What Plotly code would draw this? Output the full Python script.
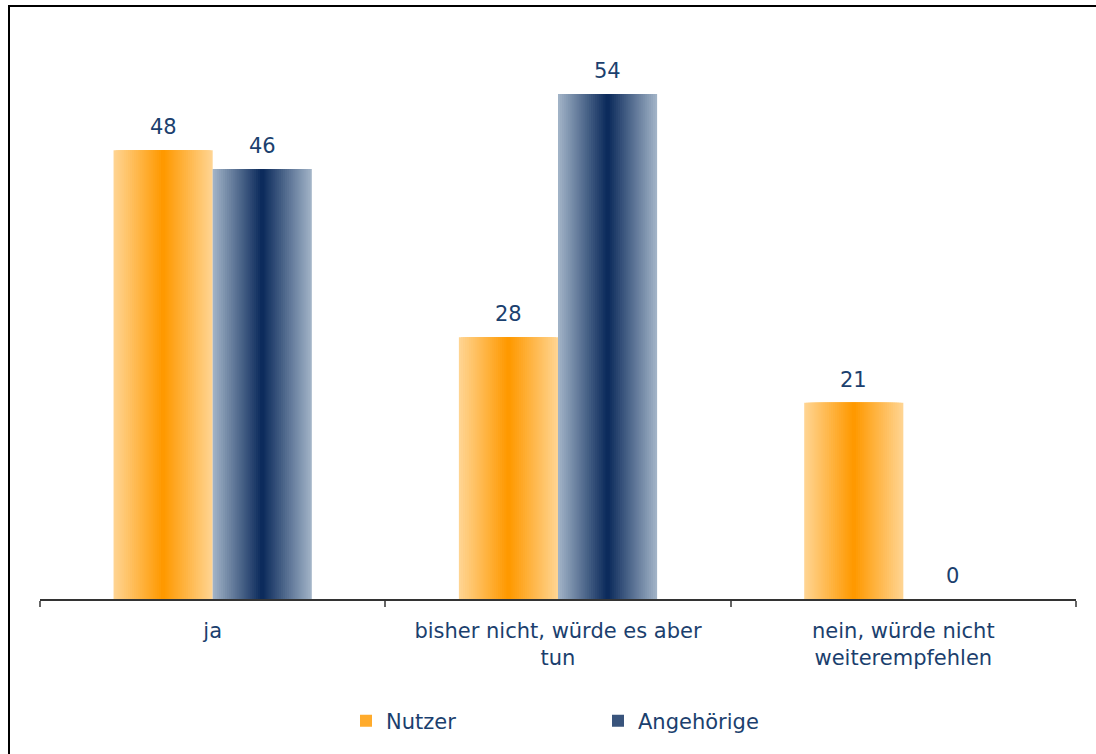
import plotly.graph_objects as go

# Survey answers: would you recommend the service?
categories = ["ja", "bisher nicht, würde es aber<br>tun", "nein, würde nicht<br>weiterempfehlen"]
nutzer = [48, 28, 21]
angehoerige = [46, 54, 0]

series = [
    ("Nutzer", nutzer, (255, 212, 145), (255, 153, 0), -1),
    ("Angehörige", angehoerige, (160, 178, 198), (12, 43, 92), 1),
]

W, H = 1096, 754
M_L, M_R, M_T, M_B = 40, 20, 38, 155
PW, PH = W - M_L - M_R, H - M_T - M_B
TEXT = "#1B3F6E"
FONT = "DejaVu Sans, Verdana, sans-serif"

BAR_W = 0.287       # width of one bar in category units
LAYERS = 24         # nested bars used to build the horizontal shading


def px_x(p):
    return (p - M_L) / PW


def px_y(p):
    return (H - M_B - p) / PH


def mix(a, b, t):
    return "rgb(%d,%d,%d)" % tuple(round(a[i] + (b[i] - a[i]) * t) for i in range(3))


fig = go.Figure()

for name, vals, edge, core, side in series:
    centre = side * BAR_W / 2
    for k in range(LAYERS):
        t = k / (LAYERS - 1)
        w = BAR_W * (1 - k / LAYERS)
        fig.add_trace(go.Bar(
            x=categories, y=vals,
            width=[w] * len(categories),
            offset=[centre - w / 2] * len(categories),
            marker=dict(color=mix(edge, core, t), line=dict(width=0)),
            name=name,
            legendgroup=name,
            showlegend=(k == LAYERS * 2 // 3),
            hoverinfo="skip" if k else "x+y",
        ))
    for i, v in enumerate(vals):
        fig.add_annotation(
            x=i + centre, y=v, text=str(v), showarrow=False,
            xref="x", yref="y", yanchor="bottom", yshift=9,
            font=dict(family=FONT, size=21, color=TEXT),
        )

# outer frame of the chart area
fig.add_shape(
    type="rect", xref="paper", yref="paper",
    x0=px_x(9), x1=px_x(1110), y0=px_y(770), y1=px_y(6),
    line=dict(color="black", width=2), fillcolor="rgba(0,0,0,0)",
)

fig.update_layout(
    width=W, height=H,
    margin=dict(l=M_L, r=M_R, t=M_T, b=M_B),
    barmode="overlay",
    plot_bgcolor="white", paper_bgcolor="white",
    font=dict(family=FONT, size=21, color=TEXT),
    xaxis=dict(
        type="category",
        categoryorder="array", categoryarray=categories,
        range=[-0.5, len(categories) - 0.5],
        showgrid=False, zeroline=False,
        showline=True, linecolor="#333333", linewidth=1.5,
        ticks="outside", tickson="boundaries",
        ticklen=6, tickcolor="#666666", tickwidth=1.5,
        tickfont=dict(family=FONT, size=21, color=TEXT),
        ticklabelstandoff=12,
    ),
    yaxis=dict(range=[0, 60], visible=False, showgrid=False, zeroline=False),
    legend=dict(
        orientation="h", x=px_x(346), xanchor="left",
        y=px_y(721), yanchor="middle",
        entrywidth=207, entrywidthmode="pixels",
        itemwidth=30,
        font=dict(family=FONT, size=21, color=TEXT),
        bgcolor="rgba(0,0,0,0)",
    ),
    showlegend=True,
)

fig.write_html("out.html")
